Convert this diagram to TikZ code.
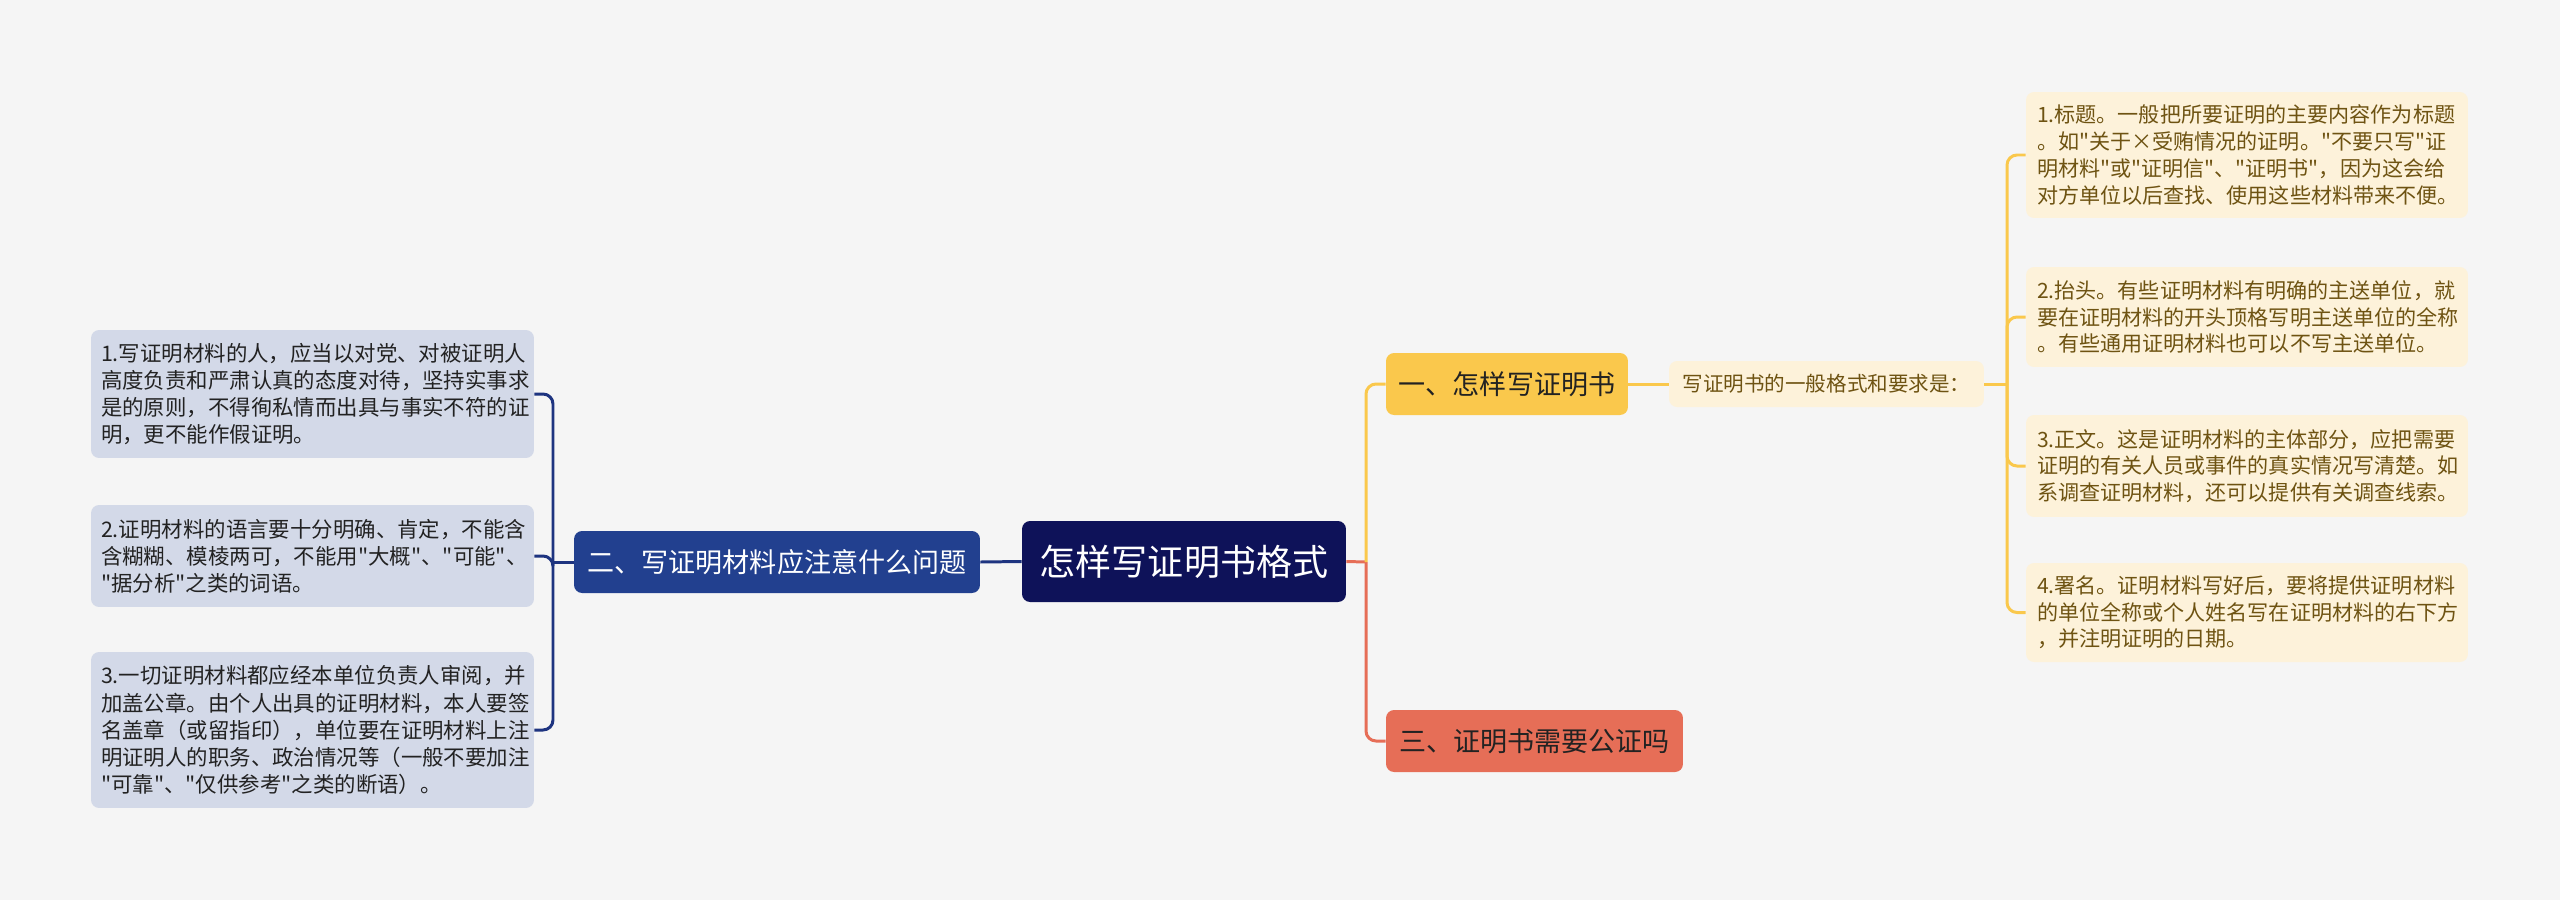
\documentclass[tikz,border=0pt]{standalone}
\usepackage{fontspec}
\setmainfont{Noto Sans CJK SC}[Ligatures=TeXOff]

\definecolor{fond}{HTML}{F5F5F5}
\definecolor{nuit}{HTML}{0E1259}
\definecolor{bleu}{HTML}{22408F}
\definecolor{marine}{HTML}{1E3480}
\definecolor{gris}{HTML}{D3D9E8}
\definecolor{jaune}{HTML}{FAC84C}
\definecolor{creme}{HTML}{FDF2DA}
\definecolor{brun}{HTML}{6E5312}
\definecolor{rouge}{HTML}{E66E57}
\definecolor{encre}{HTML}{222222}

\tikzset{
    boite/.style={rounded corners=0.16cm, inner xsep=0.2cm, inner ysep=0pt},
    racine/.style={boite, fill=nuit, text=white, minimum width=6.48cm, minimum height=1.62cm,
        font=\fontsize{20.5}{24}\selectfont},
    branche/.style={boite, minimum height=1.24cm, font=\fontsize{15.4}{18}\selectfont},
    sous/.style={boite, fill=creme, text=brun, minimum width=6.3cm, minimum height=0.92cm,
        font=\fontsize{11.7}{14}\selectfont},
    feuilleg/.style={boite, fill=gris, text=encre, text width=8.46cm, align=left,
        font=\fontsize{12.2}{15.4}\selectfont},
    feuilled/.style={boite, fill=creme, text=brun, inner xsep=0.22cm, text width=8.4cm, align=left,
        font=\fontsize{12}{15.2}\selectfont},
    trait/.style={line width=1.7pt},
}

\begin{document}
\begin{tikzpicture}[x=0.02cm, y=-0.02cm]
    \fill[fond] (0,0) rectangle (2560,900);
    \useasboundingbox (0,0) rectangle (2560,900);

    \node[racine] (racine) at (1184,561.5) {怎样写证明书格式};
    \node[branche, fill=bleu, text=white, minimum width=8.12cm] (deux) at (777,562) {二、写证明材料应注意什么问题};
    \node[branche, fill=jaune, text=encre, minimum width=4.84cm] (un) at (1507,384) {一、怎样写证明书};
    \node[branche, fill=rouge, text=encre, minimum width=5.94cm] (trois) at (1534.5,741) {三、证明书需要公证吗};
    \node[sous] (format) at (1826.5,384) {写证明书的一般格式和要求是：};

    % feuilles de gauche
    \foreach \i/\y/\h/\texte in {
        1/394/2.56/{1.写证明材料的人，应当以对党、对被证明人\\高度负责和严肃认真的态度对待，坚持实事求\\是的原则，不得徇私情而出具与事实不符的证\\明，更不能作假证明。},
        2/556/2.04/{2.证明材料的语言要十分明确、肯定，不能含\\含糊糊、模棱两可，不能用"大概"、"可能"、\\"据分析"之类的词语。},
        3/730/3.12/{3.一切证明材料都应经本单位负责人审阅，并\\加盖公章。由个人出具的证明材料，本人要签\\名盖章（或留指印），单位要在证明材料上注\\明证明人的职务、政治情况等（一般不要加注\\"可靠"、"仅供参考"之类的断语）。}
    }{
        \node[feuilleg, minimum height=\h cm] (g\i) at (312.5,\y) {\texte};
    }

    % feuilles de droite
    \foreach \i/\y/\h/\texte in {
        1/155/2.52/{1.标题。一般把所要证明的主要内容作为标题\\。如"关于×受贿情况的证明。"不要只写"证\\明材料"或"证明信"、"证明书"，因为这会给\\对方单位以后查找、使用这些材料带来不便。},
        2/317/2.0/{2.抬头。有些证明材料有明确的主送单位，就\\要在证明材料的开头顶格写明主送单位的全称\\。有些通用证明材料也可以不写主送单位。},
        3/466/2.04/{3.正文。这是证明材料的主体部分，应把需要\\证明的有关人员或事件的真实情况写清楚。如\\系调查证明材料，还可以提供有关调查线索。},
        4/612.5/1.98/{4.署名。证明材料写好后，要将提供证明材料\\的单位全称或个人姓名写在证明材料的右下方\\，并注明证明的日期。}
    }{
        \node[feuilled, minimum height=\h cm] (d\i) at (2247,\y) {\texte};
    }

    % liaisons
    \coordinate (jg) at (553,562);
    \draw[trait, marine] (deux.west) -- (jg);
    \draw[trait, marine] (racine.west) -- (deux.east);
    \foreach \i in {1,2,3}
        \draw[trait, marine, rounded corners=0.2cm] (jg) |- (g\i.east);

    \coordinate (jr) at (1366,562);
    \draw[trait, rouge] (racine.east) -- (jr);
    \draw[trait, rouge, rounded corners=0.2cm] (jr) |- (trois.west);
    \draw[trait, jaune, rounded corners=0.2cm] (jr) |- (un.west);
    \draw[trait, jaune] (un.east) -- (format.west);

    \coordinate (jd) at (2007,384);
    \draw[trait, jaune] (format.east) -- (jd);
    \foreach \i in {1,2,3,4}
        \draw[trait, jaune, rounded corners=0.2cm] (jd) |- (d\i.west);
\end{tikzpicture}
\end{document}
